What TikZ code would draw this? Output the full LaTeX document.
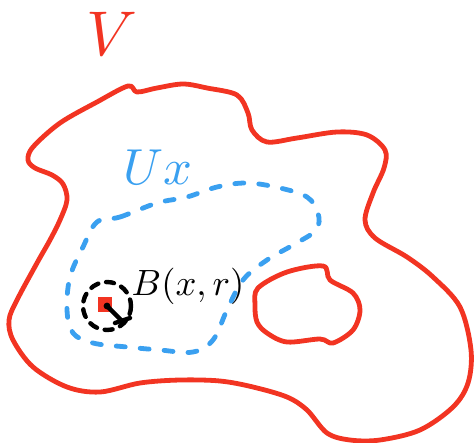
\documentclass[tikz,border=0pt]{standalone}
\usepackage{amsmath,amssymb}
\usetikzlibrary{positioning,calc}
\definecolor{penred}{RGB}{242,52,34}
\definecolor{penblue}{RGB}{58,160,240}
\tikzset{
  redpen/.style={draw=penred,line width=2.4mm,line cap=round,line join=round},
  bluepen/.style={draw=penblue,line width=2.4mm,line cap=round,
                  dash pattern=on 4.5mm off 7.5mm},
  ballpen/.style={draw=black,line width=2.2mm,line cap=round,
                  dash pattern=on 4mm off 4mm},
  bigtxt/.style={inner sep=0pt}
}

\begin{document}
\begin{tikzpicture}[x=0.5mm,y=-0.5mm]
  \useasboundingbox (0,0) rectangle (475,442);

  % ---- outer set V ----
  \draw[redpen] plot[smooth cycle,tension=0.55] coordinates {
    (28,160) (33,147) (60,123) (97,102) (128,86) (137,92) (157,88)
    (183,84) (207,88) (237,95) (248,113) (252,130) (267,142) (297,138)
    (337,132) (367,135) (385,150) (384,168) (373,193) (365,220)
    (375,238) (407,257) (433,277) (460,307) (471,350) (468,383)
    (453,407) (420,430) (380,440) (350,440) (327,433) (307,410)
    (287,397) (253,387) (220,381) (180,380) (140,383) (100,392)
    (67,387) (33,367) (13,340) (9,320) (17,300) (37,263) (50,240)
    (60,220) (67,200) (63,184) (52,175) (35,168)};

  % ---- hole ----
  \draw[redpen] plot[smooth cycle,tension=0.55] coordinates {
    (258,288) (287,272) (323,266) (330,280) (353,293) (360,310)
    (353,330) (333,343) (320,339) (287,342) (267,333) (257,322)
    (255,305)};

  % ---- neighbourhood U_x ----
  \draw[bluepen] plot[smooth cycle,tension=0.6] coordinates {
    (97,222) (120,217) (157,203) (187,197) (217,187) (247,183)
    (280,188) (307,197) (318,213) (316,230) (293,245) (267,260)
    (243,280) (227,310) (213,340) (193,352) (160,350) (127,347)
    (93,343) (73,333) (67,310) (70,277) (83,247)};

  % ---- ball ----
  \coordinate (ctr) at (107,306);
  \draw[ballpen] (ctr) circle[radius=24];
  \fill[penred] (98,297) rectangle (112,312);
  \coordinate (rad) at (122,321);
  \fill (ctr) circle[radius=3.4];
  \draw[black,line width=2.2mm,line cap=round] (ctr) -- (rad);
  \draw[black,line width=2.2mm,line cap=round] (115,323) -- (130,318);

  % ---- labels ----
  \node[bigtxt,text=penred,scale=9] (vlab) at (112,34) {$V$};
  \node[bigtxt,text=penblue,anchor=base west,scale=7.2] (ulab) at (122,184) {$Ux$};
  \node[bigtxt,anchor=base west,scale=5.2] (blab) at (131,295) {$B(x,r)$};
\end{tikzpicture}
\end{document}
